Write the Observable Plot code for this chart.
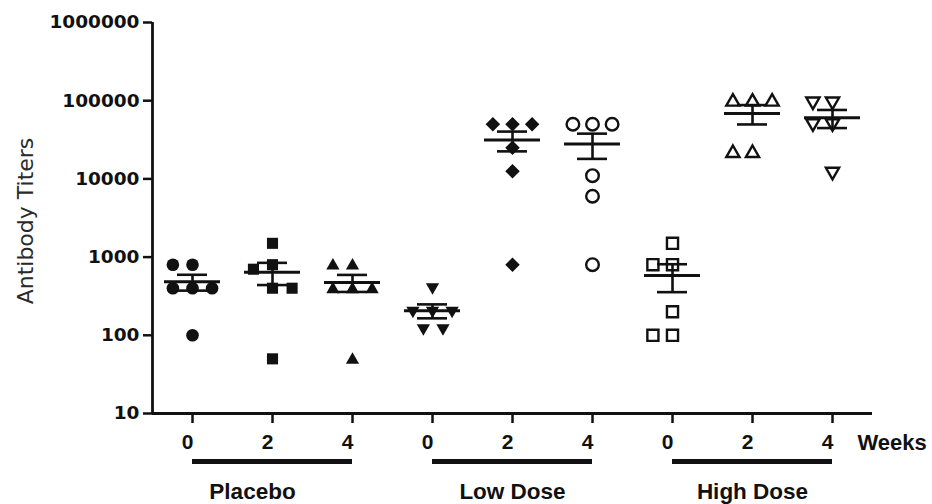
<!DOCTYPE html>
<html>
<head>
<meta charset="utf-8">
<script src="https://cdn.jsdelivr.net/npm/d3@7"></script>
<script src="https://cdn.jsdelivr.net/npm/@observablehq/plot@0.6"></script>
<style>
  body { margin: 0; background: #fff; }
</style>
</head>
<body>
<div id="chart"></div>
<script>
// ---- data ----
const groups = ["Placebo", "Low Dose", "High Dose"];
const weeks = [0, 2, 4];
const yTicks = [10, 100, 1000, 10000, 100000, 1000000];

const placeboWeek0 = [800, 800, 400, 400, 400, 100];
const placeboWeek2 = [1500, 800, 700, 400, 400, 50];
const placeboWeek4 = [800, 800, 400, 400, 400, 50];
const lowDoseWeek0 = [400, 200, 200, 200, 120, 120];
const lowDoseWeek2 = [50000, 50000, 50000, 25000, 12500, 800];
const lowDoseWeek4 = [50000, 50000, 50000, 11000, 6000, 800];
const highDoseWeek0 = [1500, 800, 800, 200, 100, 100];
const highDoseWeek2 = [100000, 100000, 100000, 22000, 22000];
const highDoseWeek4 = [95000, 95000, 50000, 50000, 12000];

const series = [placeboWeek0, placeboWeek2, placeboWeek4,
                lowDoseWeek0, lowDoseWeek2, lowDoseWeek4,
                highDoseWeek0, highDoseWeek2, highDoseWeek4];

// ---- tables built from the arrays ----
const keyOf = (g, w) => `${g}|${w}`;
const keys = groups.flatMap(g => weeks.map(w => keyOf(g, w)));
const points = series.flatMap((vals, i) =>
  vals.map(v => ({key: keys[i], group: groups[Math.floor(i / 3)], week: weeks[i % 3], value: v})));
const stats = series.map((vals, i) => {
  const m = d3.mean(vals);
  const se = d3.deviation(vals) / Math.sqrt(vals.length);
  return {key: keys[i], mean: m, lo: m - se, hi: m + se};
});

// ---- marker styles ----
const poly = pts => ({
  draw(ctx, size) {
    const r = Math.sqrt(size / Math.PI);
    ctx.moveTo(pts[0][0] * r, pts[0][1] * r);
    for (let i = 1; i < pts.length; i++) ctx.lineTo(pts[i][0] * r, pts[i][1] * r);
    ctx.closePath();
  }
});
const sq = poly([[-0.88, -0.88], [0.88, -0.88], [0.88, 0.88], [-0.88, 0.88]]);
const triUp = poly([[0, -1.05], [1.05, 0.78], [-1.05, 0.78]]);
const triDown = poly([[0, 1.05], [1.05, -0.78], [-1.05, -0.78]]);
const diam = poly([[0, -1.15], [1.15, 0], [0, 1.15], [-1.15, 0]]);
const symbolRange = ["circle", sq, triUp, triDown, diam, "circle", sq, triUp, triDown];
const openKeys = new Set(keys.slice(5));
const filledPts = points.filter(d => !openKeys.has(d.key));
const openPts = points.filter(d => openKeys.has(d.key));

const sans = "'Liberation Sans', Arial, sans-serif";
const ink = "#111";

const chart = Plot.plot({
  width: 932,
  height: 504,
  marginTop: 22,
  marginBottom: 91,
  marginLeft: 150,
  marginRight: 59,
  style: {fontFamily: sans, color: ink, background: "#fff"},
  fx: {domain: keys, padding: 0},
  x: {domain: [0, 1], axis: null},
  y: {type: "log", domain: [10, 1000000]},
  symbol: {domain: keys, range: symbolRange},
  marks: [
    // y axis ticks + labels
    Plot.axisY({ticks: yTicks, tickFormat: d3.format("d"), tickSize: 9, tickPadding: 4,
      fontSize: 18.5, fontWeight: "bold", fontFamily: "'DejaVu Sans', sans-serif",
      strokeWidth: 2.5, label: null}),
    // y axis title
    Plot.text(["Antibody Titers"], {fx: () => keys[0], frameAnchor: "left", textAnchor: "middle",
      rotate: -90, dx: -127, dy: 3, fontSize: 22, fontFamily: "'DejaVu Sans', sans-serif", fill: "#2a2a2a"}),
    // fx axis ticks (weeks)
    Plot.axisFx({anchor: "bottom", tickSize: 10, tickFormat: () => "", strokeWidth: 2.5, label: null}),
    // fx axis labels (weeks)
    Plot.axisFx({anchor: "bottom", tickSize: 0, tickPadding: 21, tickFormat: k => k.split("|")[1],
      dx: -5, fontSize: 21, fontWeight: "bold", label: null}),
    // axis lines
    Plot.ruleY([10], {stroke: ink, strokeWidth: 2.8}),
    Plot.ruleX([keys[0]], {fx: d => d, x: () => 0, y1: () => 10, y2: () => 1000000, stroke: ink, strokeWidth: 2.8}),
    // "Weeks"
    Plot.text(["Weeks"], {fx: () => keys[8], frameAnchor: "bottom-right", textAnchor: "start",
      lineAnchor: "top", dx: -15, dy: 21, fontSize: 22, fontWeight: "bold", fontFamily: sans, fill: ink}),
    // group bars and labels
    Plot.ruleY(groups, {fx: g => keyOf(g, 2), y: () => 10, dy: 48, insetLeft: -40, insetRight: -40,
      stroke: ink, strokeWidth: 5}),
    Plot.text(groups.slice(0, 1), {fx: g => keyOf(g, 2), frameAnchor: "bottom", lineAnchor: "top",
      dy: 70, dx: -20, fontSize: 22.5, fontWeight: "bold", fontFamily: sans, fill: ink}),
    Plot.text(groups.slice(1), {fx: g => keyOf(g, 2), frameAnchor: "bottom", lineAnchor: "top",
      dy: 70, fontSize: 22.5, fontWeight: "bold", fontFamily: sans, fill: ink}),
    // points
    Plot.dot(filledPts, Plot.dodgeX({anchor: "middle", padding: 7, fx: "key", y: "value", r: 6.3,
      symbol: "key", fill: ink, stroke: "none"})),
    Plot.dot(openPts, Plot.dodgeX({anchor: "middle", padding: 7, fx: "key", y: "value", r: 6.3,
      symbol: "key", fill: "white", stroke: ink, strokeWidth: 2.4})),
    // mean and SEM
    Plot.ruleX(stats, {fx: "key", x: () => 0.5, y1: "lo", y2: "hi", stroke: ink, strokeWidth: 2.6}),
    Plot.tickY(stats, {fx: "key", y: "mean", insetLeft: 12, insetRight: 12, stroke: ink, strokeWidth: 3}),
    Plot.tickY(stats, {fx: "key", y: "hi", insetLeft: 25, insetRight: 25, stroke: ink, strokeWidth: 2.6}),
    Plot.tickY(stats, {fx: "key", y: "lo", insetLeft: 25, insetRight: 25, stroke: ink, strokeWidth: 2.6})
  ]
});
document.getElementById("chart").append(chart);
</script>
</body>
</html>
